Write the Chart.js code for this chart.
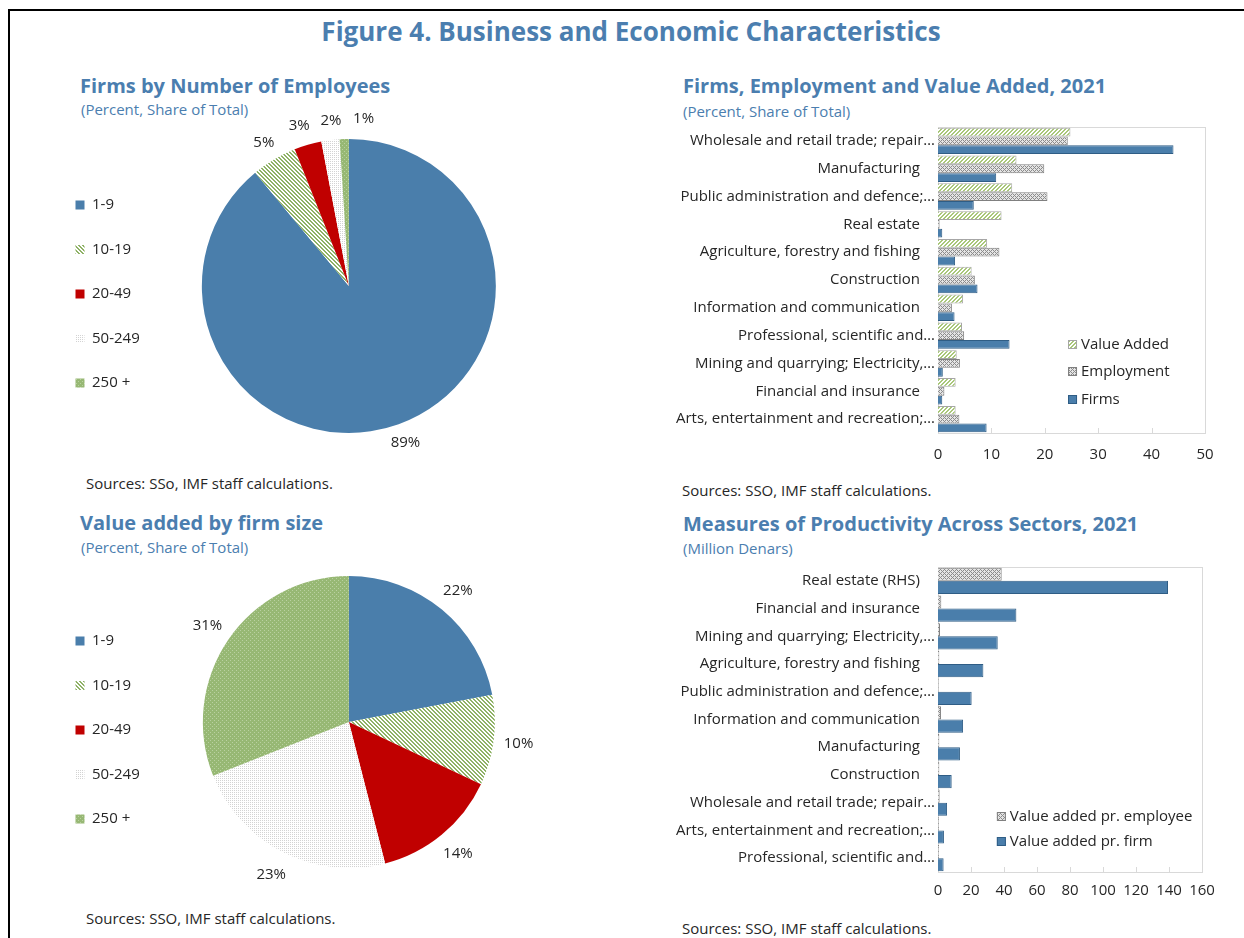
<!DOCTYPE html>
<html>
<head>
<meta charset="utf-8">
<script src="https://cdn.jsdelivr.net/npm/chart.js@4/dist/chart.umd.min.js"></script>
<style>
  body { margin: 0; background: #fff; font-family: "Open Sans", sans-serif; }
  #page { position: relative; width: 1244px; height: 938px; overflow: hidden; }
  .frame-top { position: absolute; left: 8px; top: 9px; right: 0; height: 2px; background: #000; }
  .frame-left { position: absolute; left: 8px; top: 9px; bottom: 0; width: 2px; background: #000; }
  .txt { position: absolute; white-space: nowrap; }
  .main-title { left: 0; width: 1262px; text-align: center; top: 18px; font-size: 26px; line-height: 26px; font-weight: 700; color: #4B7EAF; }
  .ptitle { font-size: 20px; line-height: 20px; font-weight: 700; color: #4B7EAF; }
  .psub { font-size: 15px; line-height: 15px; color: #4B7EAF; }
  .src { font-size: 15px; line-height: 15px; color: #262626; }
  canvas { position: absolute; }
</style>
</head>
<body>
<div id="page">
  <div class="frame-top"></div>
  <div class="frame-left"></div>
  <div class="txt main-title">Figure 4. Business and Economic Characteristics</div>

  <div class="txt ptitle" style="left:80px; top:76px;">Firms by Number of Employees</div>
  <div class="txt psub" style="left:81px; top:102px;">(Percent, Share of Total)</div>
  <div class="txt src" style="left:86px; top:476px;">Sources: SSo, IMF staff calculations.</div>

  <div class="txt ptitle" style="left:683px; top:76px;">Firms, Employment and Value Added, 2021</div>
  <div class="txt psub" style="left:683px; top:104px;">(Percent, Share of Total)</div>
  <div class="txt src" style="left:682px; top:483px;">Sources: SSO, IMF staff calculations.</div>

  <div class="txt ptitle" style="left:80px; top:513px;">Value added by firm size</div>
  <div class="txt psub" style="left:81px; top:540px;">(Percent, Share of Total)</div>
  <div class="txt src" style="left:86px; top:911px;">Sources: SSO, IMF staff calculations.</div>

  <div class="txt ptitle" style="left:683px; top:514px;">Measures of Productivity Across Sectors, 2021</div>
  <div class="txt psub" style="left:683px; top:541px;">(Million Denars)</div>
  <div class="txt src" style="left:682px; top:921px;">Sources: SSO, IMF staff calculations.</div>

  <canvas id="firmsPie" width="502" height="350" style="left:46px; top:105px;"></canvas>
  <canvas id="vaPie" width="502" height="330" style="left:46px; top:564px;"></canvas>
  <canvas id="sectorBars" width="560" height="360" style="left:670px; top:115px;"></canvas>
  <canvas id="prodBars" width="560" height="360" style="left:670px; top:555px;"></canvas>
</div>

<script>
// firm size classes
var sizeClasses = ['1-9', '10-19', '20-49', '50-249', '250 +'];
var firmsShare = [89, 5, 3, 2, 1];
var valueAddedShare = [22, 10, 14, 23, 31];

// sector shares (percent of total)
var sectors = [
  'Wholesale and retail trade; repair\u2026',
  'Manufacturing',
  'Public administration and defence;\u2026',
  'Real estate',
  'Agriculture, forestry and fishing',
  'Construction',
  'Information and communication',
  'Professional, scientific and\u2026',
  'Mining and quarrying; Electricity,\u2026',
  'Financial and insurance',
  'Arts, entertainment and recreation;\u2026'
];
var sectorValueAdded = [24.8, 14.7, 13.9, 11.9, 9.2, 6.3, 4.7, 4.5, 3.5, 3.3, 3.3];
var sectorEmployment = [24.3, 19.9, 20.5, 0.3, 11.5, 6.9, 2.6, 4.9, 4.1, 1.2, 4.0];
var sectorFirms = [44.1, 10.9, 6.7, 0.8, 3.2, 7.4, 3.1, 13.4, 0.9, 0.8, 9.1];
var shareAxis = { min: 0, max: 50, step: 10 };

// productivity, million denars
var prodSectors = [
  'Real estate (RHS)',
  'Financial and insurance',
  'Mining and quarrying; Electricity,\u2026',
  'Agriculture, forestry and fishing',
  'Public administration and defence;\u2026',
  'Information and communication',
  'Manufacturing',
  'Construction',
  'Wholesale and retail trade; repair\u2026',
  'Arts, entertainment and recreation;\u2026',
  'Professional, scientific and\u2026'
];
var vaPerEmployee = [38.6, 2.0, 1.2, 0.8, 0.4, 1.8, 0.8, 0.8, 1.0, 0.6, 0.6];
var vaPerFirm = [139.4, 47.5, 36.2, 27.5, 20.4, 15.2, 13.3, 8.3, 5.5, 3.6, 3.4];
var prodAxis = { min: 0, max: 160, step: 20 };

var BLUE = '#4A7EAB';
var RED = '#C00000';
var GREEN = '#97B874';
var TEXT = '#262626';
var FONT = 15;

Chart.defaults.font.family = '"Open Sans", sans-serif';
Chart.defaults.font.size = FONT;
Chart.defaults.color = TEXT;
Chart.defaults.animation = false;

// small repeating fills
function tile(size, bg, ink, hit) {
  var c = document.createElement('canvas');
  c.width = size; c.height = size;
  var g = c.getContext('2d');
  g.fillStyle = bg;
  g.fillRect(0, 0, size, size);
  g.fillStyle = ink;
  for (var y = 0; y < size; y++) {
    for (var x = 0; x < size; x++) {
      if (hit(x, y)) g.fillRect(x, y, 1, 1);
    }
  }
  return g.createPattern(c, 'repeat');
}

var hatchDown = tile(4, '#ffffff', '#8FB266', function (x, y) { return ((x - y + 8) % 4) < 2; });
var hatchUp = tile(4, '#ffffff', '#A9C77A', function (x, y) { return ((x + y) % 4) < 2; });
var dotsGrey = tile(2, '#ffffff', '#d3d3d3', function (x, y) { return x === 0 && y === 0; });
var dotsGreen = tile(4, GREEN, '#b9d1a0', function (x, y) { return (x === 0 && y === 0) || (x === 2 && y === 2); });
var crossGrey = tile(4, '#e4e4e4', '#8c8c8c', function (x, y) { return (x + y) % 4 === 0 || ((x - y + 8) % 4) === 0; });

var sliceFills = [BLUE, hatchDown, RED, dotsGrey, dotsGreen];

// percent labels just outside each slice
var sliceLabels = {
  id: 'sliceLabels',
  afterDatasetsDraw: function (chart, args, opts) {
    var ctx = chart.ctx;
    var meta = chart.getDatasetMeta(0);
    var values = chart.data.datasets[0].data;
    ctx.save();
    ctx.font = FONT + 'px "Open Sans", sans-serif';
    ctx.fillStyle = TEXT;
    ctx.textAlign = 'center';
    ctx.textBaseline = 'middle';
    meta.data.forEach(function (arc, i) {
      var p = arc.getProps(['x', 'y', 'startAngle', 'endAngle', 'outerRadius'], true);
      var mid = (p.startAngle + p.endAngle) / 2;
      var r = p.outerRadius + opts.offset;
      var dx = (opts.shift && opts.shift[i]) || 0;
      ctx.fillText(values[i] + '%', p.x + Math.cos(mid) * r + dx, p.y + Math.sin(mid) * r);
    });
    ctx.restore();
  }
};

// light box round the plot plus inward ticks on the value axis
var plotFrame = {
  id: 'plotFrame',
  beforeDatasetsDraw: function (chart) {
    var a = chart.chartArea, ctx = chart.ctx, xs = chart.scales.x;
    ctx.save();
    ctx.strokeStyle = '#d9d9d9';
    ctx.lineWidth = 1;
    ctx.strokeRect(Math.round(a.left) + 0.5, Math.round(a.top) + 0.5, Math.round(a.width), Math.round(a.height));
    xs.ticks.forEach(function (t, i) {
      var px = Math.round(xs.getPixelForTick(i)) + 0.5;
      ctx.beginPath();
      ctx.moveTo(px, a.bottom);
      ctx.lineTo(px, a.bottom - 5);
      ctx.stroke();
    });
    ctx.restore();
  }
};

// legend placed inside the plot area
var innerLegend = {
  id: 'innerLegend',
  afterDraw: function (chart, args, opts) {
    var a = chart.chartArea, ctx = chart.ctx;
    var x = a.left + a.width * opts.x;
    var y = a.top + a.height * opts.y;
    ctx.save();
    ctx.font = FONT + 'px "Open Sans", sans-serif';
    ctx.textBaseline = 'middle';
    chart.data.datasets.forEach(function (ds, k) {
      var yy = Math.round(y + k * opts.spacing);
      ctx.fillStyle = ds.backgroundColor;
      ctx.fillRect(x, yy - 5, 9, 9);
      ctx.strokeStyle = ds.borderColor;
      ctx.lineWidth = 1;
      ctx.strokeRect(x + 0.5, yy - 4.5, 8, 8);
      ctx.fillStyle = TEXT;
      ctx.fillText(ds.label, x + 13, yy);
    });
    ctx.restore();
  }
};

function pieConfig(values, pad, labelOpts) {
  return {
    type: 'pie',
    data: {
      labels: sizeClasses,
      datasets: [{ data: values, backgroundColor: sliceFills, borderWidth: 0 }]
    },
    options: {
      responsive: false,
      devicePixelRatio: 1,
      layout: { padding: pad },
      plugins: {
        legend: {
          position: 'left',
          // blank title only pushes the list a little lower
          title: { display: true, text: ' ', font: { size: 10 }, padding: { top: 2, bottom: 2 } },
          labels: { boxWidth: 9, boxHeight: 9, padding: 29.5, color: TEXT, font: { size: FONT } }
        },
        tooltip: { enabled: false },
        sliceLabels: labelOpts
      }
    },
    plugins: [sliceLabels]
  };
}

new Chart(document.getElementById('firmsPie'),
  pieConfig(firmsShare, { top: 34, bottom: 22 }, { offset: 20, shift: [0, 0, -3, 3, 20] }));
new Chart(document.getElementById('vaPie'),
  pieConfig(valueAddedShare, { top: 12, bottom: 26 }, { offset: 25 }));

function barConfig(labels, datasets, axis, pad, xPad, legendPos) {
  return {
    type: 'bar',
    data: { labels: labels, datasets: datasets },
    options: {
      indexAxis: 'y',
      responsive: false,
      devicePixelRatio: 1,
      layout: { padding: pad },
      datasets: { bar: { categoryPercentage: 0.95, barPercentage: 1.0 } },
      scales: {
        x: {
          min: axis.min, max: axis.max,
          ticks: { stepSize: axis.step, padding: xPad, color: TEXT, font: { size: FONT } },
          grid: { display: false, drawTicks: false },
          border: { display: false },
          afterFit: function (s) { s.height = 30; }
        },
        y: {
          ticks: {
            autoSkip: false, padding: 3, color: TEXT, font: { size: FONT },
            callback: function (v) {
              var s = this.getLabelForValue(v);
              return /\u2026$/.test(s) ? s : s + '\u2002\u2002';
            }
          },
          grid: { display: false, drawTicks: false },
          border: { display: false },
          afterFit: function (s) { s.width = 268; }
        }
      },
      plugins: {
        legend: { display: false },
        tooltip: { enabled: false },
        innerLegend: legendPos
      }
    },
    plugins: [plotFrame, innerLegend]
  };
}

new Chart(document.getElementById('sectorBars'), barConfig(sectors, [
  { label: 'Value Added', data: sectorValueAdded, backgroundColor: hatchUp, borderColor: '#a6a6a6', borderWidth: 1 },
  { label: 'Employment', data: sectorEmployment, backgroundColor: crossGrey, borderColor: '#808080', borderWidth: 1 },
  { label: 'Firms', data: sectorFirms, backgroundColor: BLUE, borderColor: '#2f5d85', borderWidth: 1 }
], shareAxis, { top: 12, right: 25, bottom: 12 }, 13, { x: 0.487, y: 0.712, spacing: 27.5 }));

new Chart(document.getElementById('prodBars'), barConfig(prodSectors, [
  { label: 'Value added pr. employee', data: vaPerEmployee, backgroundColor: crossGrey, borderColor: '#808080', borderWidth: 1 },
  { label: 'Value added pr. firm', data: vaPerFirm, backgroundColor: BLUE, borderColor: '#2f5d85', borderWidth: 1 }
], prodAxis, { top: 11, right: 28, bottom: 13 }, 10, { x: 0.223, y: 0.82, spacing: 25 }));
</script>
</body>
</html>
